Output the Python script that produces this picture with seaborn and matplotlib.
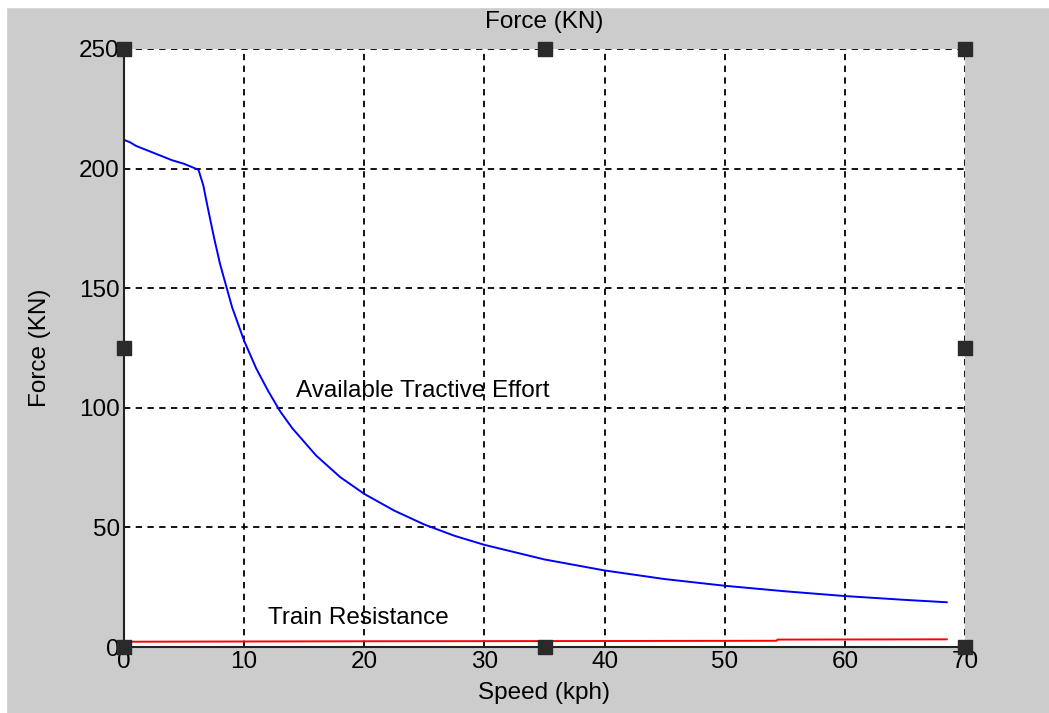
import matplotlib
matplotlib.use("Agg")
import matplotlib.pyplot as plt
import seaborn as sns
import pandas as pd
from matplotlib.patches import Rectangle

# valori
speed_te = [0, 0.5, 1, 2, 3, 4, 5, 6.2, 6.6, 7, 7.5, 8, 8.5, 9, 10, 11, 12, 13, 14, 16, 18, 20,
            22.5, 25, 27.5, 30, 35, 40, 45, 50, 55, 60, 65, 68.5]
force_te = [212, 211, 209.5, 207.5, 205.5, 203.5, 202, 199.5, 193, 183, 171, 160, 151, 142, 128,
            116.5, 107, 98.5, 91.5, 80, 71, 64, 57, 51.2, 46.5, 42.7, 36.6, 32, 28.4, 25.6,
            23.3, 21.3, 19.7, 18.7]

speed_tr = [0, 20, 40, 54.3, 54.4, 68.5]
force_tr = [2.2, 2.4, 2.5, 2.6, 3.1, 3.2]

x_ticks = [0, 10, 20, 30, 40, 50, 60, 70]
y_ticks = [0, 50, 100, 150, 200, 250]

te = pd.DataFrame({"speed": speed_te, "force": force_te})
tr = pd.DataFrame({"speed": speed_tr, "force": force_tr})

sns.set_style("white")
plt.rcParams["font.family"] = ["Liberation Sans", "DejaVu Sans"]
plt.rcParams["text.color"] = "black"
plt.rcParams["axes.labelcolor"] = "black"

fig = plt.figure(figsize=(10.49, 7.13), dpi=100)
fig.patch.set_facecolor("#cccccc")
# bordino bianco dello screenshot
fig.patches.append(Rectangle((0, 0), 6 / 1049, 1, transform=fig.transFigure, color="white", zorder=0))
fig.patches.append(Rectangle((0, 1 - 7 / 713), 1, 7 / 713, transform=fig.transFigure, color="white", zorder=0))

ax = fig.add_axes([124 / 1049, 1 - 647 / 713, (965 - 124) / 1049, (647 - 49) / 713])
ax.set_facecolor("white")

sns.lineplot(data=te, x="speed", y="force", color="#0000ff", lw=1.4, ax=ax, estimator=None, sort=False)
sns.lineplot(data=tr, x="speed", y="force", color="#ff0000", lw=1.4, ax=ax, estimator=None, sort=False)

ax.set_xlim(0, 70)
ax.set_ylim(0, 250)
ax.set_xticks(x_ticks)
ax.set_yticks(y_ticks)
ax.grid(True, color="black", linestyle=(0, (3.5, 3)), lw=1.3)
ax.tick_params(direction="in", length=5, width=1.2, labelsize=17.5, colors="black",
               labelcolor="black", pad=3)

for s in ["top", "right"]:
    ax.spines[s].set_visible(False)
for s in ["left", "bottom"]:
    ax.spines[s].set_color("#222222")
    ax.spines[s].set_linewidth(1.5)

ax.set_title("Force (KN)", fontsize=17.5, pad=15)
ax.set_xlabel("Speed (kph)", fontsize=17.5, labelpad=6)
ax.set_ylabel("Force (KN)", fontsize=17.5, labelpad=20)

ax.text(14.3, 107, "Available Tractive Effort", fontsize=17.5, va="center", ha="left")
ax.text(12.0, 12, "Train Resistance", fontsize=17.5, va="center", ha="left")

# maniglie di selezione
hx = [0, 0.5, 1, 0, 1, 0, 0.5, 1]
hy = [1, 1, 1, 0.5, 0.5, 0, 0, 0]
ax.scatter(hx, hy, marker="s", s=100, color="#2a2a2a", transform=ax.transAxes, clip_on=False, zorder=5)

plt.savefig("out.png", dpi=100, facecolor=fig.get_facecolor())
